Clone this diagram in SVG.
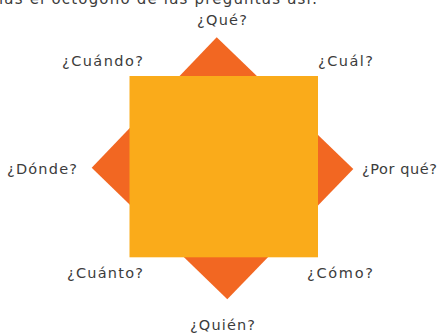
<svg xmlns="http://www.w3.org/2000/svg" width="438" height="333" viewBox="0 0 438 333">
<style>
.lbl{font-family:"DejaVu Sans","Liberation Sans",sans-serif;font-size:14.5px;fill:#3c3c3c;}
.hdr{font-family:"DejaVu Sans","Liberation Sans",sans-serif;font-size:15px;fill:#3c3c3c;}
</style>
<rect width="438" height="333" fill="#ffffff"/>
<text class="hdr" x="-1" y="4" textLength="318" lengthAdjust="spacing">ias el octógono de las preguntas así:</text>
<g id="octagon">
<polygon points="216.7,37.3 353.3,169 227.3,299.3 91.7,167.7" fill="#F26722"/>
<rect x="129.5" y="76" width="188.5" height="181.3" fill="#FAAB1A"/>
</g>
<g id="labels">
<g id="que"><text class="lbl" x="197" y="25" textLength="50" lengthAdjust="spacing">¿Qué?</text></g>
<g id="cuando"><text class="lbl" x="62" y="66" textLength="81" lengthAdjust="spacing">¿Cuándo?</text></g>
<g id="cual"><text class="lbl" x="318" y="66" textLength="55" lengthAdjust="spacing">¿Cuál?</text></g>
<g id="donde"><text class="lbl" x="7" y="174" textLength="70" lengthAdjust="spacing">¿Dónde?</text></g>
<g id="porque"><text class="lbl" x="362" y="174" textLength="75" lengthAdjust="spacing">¿Por qué?</text></g>
<g id="cuanto"><text class="lbl" x="67" y="278" textLength="76" lengthAdjust="spacing">¿Cuánto?</text></g>
<g id="como"><text class="lbl" x="307" y="278" textLength="66" lengthAdjust="spacing">¿Cómo?</text></g>
<g id="quien"><text class="lbl" x="190" y="330" textLength="65" lengthAdjust="spacing">¿Quién?</text></g>
</g>
</svg>
